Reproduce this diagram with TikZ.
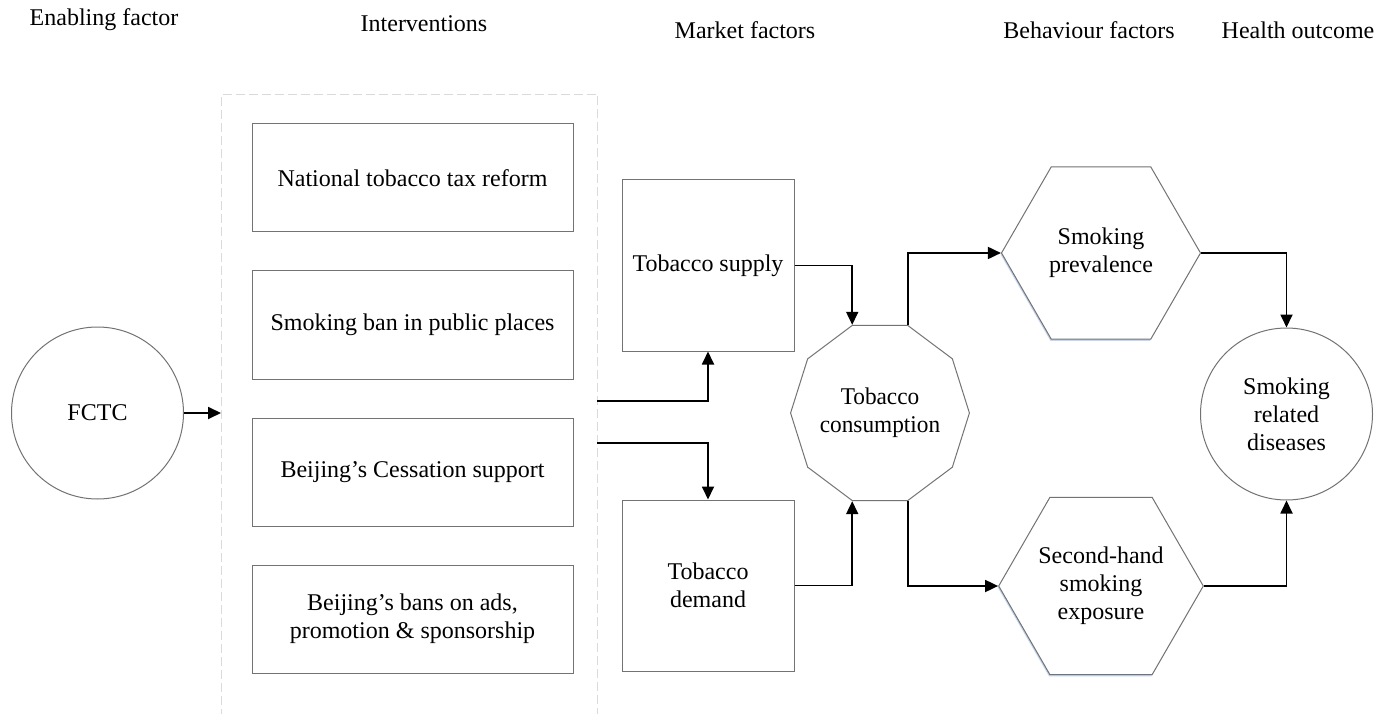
\documentclass[tikz,border=0pt]{standalone}
\usepackage{fontspec}
\setmainfont{Liberation Serif}
\usetikzlibrary{shapes.geometric,arrows.meta,shadows}
\definecolor{bordergray}{RGB}{115,115,115}
\definecolor{dashgray}{RGB}{218,218,218}
\definecolor{shadowblue}{RGB}{170,195,235}
\begin{document}
\begin{tikzpicture}[x=1pt,y=-1pt,
  every node/.style={font=\fontsize{24}{28}\selectfont},
  lbl/.style={anchor=base},
  box/.style={draw=bordergray, line width=1pt, fill=white, minimum width=321pt, minimum height=108pt, align=center, inner sep=0pt},
  mbox/.style={draw=bordergray, line width=1pt, fill=white, minimum width=172pt, minimum height=171pt, align=center, inner sep=0pt},
  circ/.style={circle, draw=bordergray, line width=1pt, fill=white, minimum size=172pt, align=center, inner sep=0pt},
  deca/.style={regular polygon, regular polygon sides=10, draw=bordergray, line width=1pt, fill=white, minimum size=178pt, align=center, inner sep=0pt},
  hexa/.style={regular polygon, regular polygon sides=6, draw=bordergray, line width=1pt, fill=white, minimum size=199pt, align=center, inner sep=0pt,
    drop shadow={shadow xshift=-0.8pt, shadow yshift=-1.8pt, fill=shadowblue, opacity=0.7}},
  arr/.style={draw=black, line width=1.8pt, -{Triangle[length=13pt,width=12pt]}}
]
\useasboundingbox (0,0) rectangle (1390,714);

% headers
\node[lbl] (h1) at (104,26) {Enabling factor};
\node[lbl] (h2) at (424,32) {Interventions};
\node[lbl] (h3) at (745,39) {Market factors};
\node[lbl] (h4) at (1089,39) {Behaviour factors};
\node[lbl] (h5) at (1298,39) {Health outcome};

% interventions frame
\node[draw=dashgray, dash pattern=on 9pt off 4pt, line width=1pt, minimum width=376pt, minimum height=623pt, anchor=north west, inner sep=0pt] (interv) at (221,94) {};

\node[box] (b1) at (412.5,178) {National tobacco tax reform};
\node[box] (b2) at (412.5,325) {Smoking ban in public places};
\node[box] (b3) at (412.5,472) {Beijing's Cessation support};
\node[box] (b4) at (412.5,619) {Beijing's bans on ads,\\promotion \& sponsorship};

% enabling factor
\node[circ] (fctc) at (97.5,413) {FCTC};

% market factors
\node[mbox] (sup) at (708,265.5) {Tobacco supply};
\node[mbox] (dem) at (708,585.5) {Tobacco\\demand};

% consumption
\node[deca, xscale=0.97] (dec) at (880,413) {Tobacco\\consumption};

% behaviour factors
\node[hexa] (hx1) at (1101,253) {Smoking\\prevalence};
\node[hexa] (hx2) at (1101,586) {Second-hand\\smoking\\exposure};

% health outcome
\node[circ] (srd) at (1286.5,414) {Smoking\\related\\diseases};

% connectors
\coordinate (iin) at (221,413);
\coordinate (o1) at (597,401);
\coordinate (o2) at (597,443);
\draw[arr] (fctc.east) -- (iin);
\draw[arr] (o1) -| (sup.south);
\draw[arr] (o2) -| (dem.north);
\draw[arr] (sup.east) -| (dec.108);
\draw[arr] (dem.east) -| (dec.252);
\draw[arr] (dec.72) |- (hx1.180);
\draw[arr] (dec.288) |- (hx2.180);
\draw[arr] (hx1.0) -| (srd.north);
\draw[arr] (hx2.0) -| (srd.south);
\end{tikzpicture}
\end{document}
